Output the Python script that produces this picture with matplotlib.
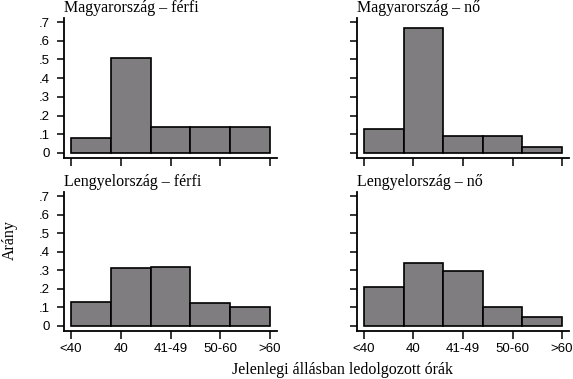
import matplotlib.pyplot as plt

categories = ['<40', '40', '41-49', '50-60', '>60']
titles = ['Magyarország – férfi', 'Magyarország – nő',
          'Lengyelország – férfi', 'Lengyelország – nő']
hu_male = [0.08, 0.51, 0.14, 0.14, 0.14]
hu_female = [0.13, 0.67, 0.09, 0.09, 0.03]
pl_male = [0.13, 0.31, 0.32, 0.125, 0.10]
pl_female = [0.21, 0.34, 0.295, 0.10, 0.05]
yticks = [0, .1, .2, .3, .4, .5, .6, .7]
ytick_labels = ['0', '.1', '.2', '.3', '.4', '.5', '.6', '.7']

W, H = 573, 379
fig = plt.figure(figsize=(W / 100, H / 100), dpi=100)
fig.patch.set_facecolor('white')

serif = 'Liberation Serif'
sans = 'Liberation Sans'
bar_color = '#807d80'

# panel boxes in pixels: (left spine x, right end x, top y, x axis y)
boxes = [(64, 277, 18, 158), (357, 569, 18, 158),
         (64, 277, 192, 331), (357, 569, 192, 331)]
data = [hu_male, hu_female, pl_male, pl_female]

for i, (vals, (x0, x1, y0, y1)) in enumerate(zip(data, boxes)):
    ax = fig.add_axes([x0 / W, 1 - y1 / H, (x1 - x0) / W, (y1 - y0) / H])
    ax.bar(range(5), vals, width=1.0, align='edge', color=bar_color,
           edgecolor='black', linewidth=1.2)
    ax.set_xlim(-0.176, 5.176)
    ax.set_ylim(-0.027, 0.722)
    for s in ['top', 'right']:
        ax.spines[s].set_visible(False)
    for s in ['left', 'bottom']:
        ax.spines[s].set_linewidth(1.3)
    ax.set_yticks(yticks)
    ax.set_xticks([0, 1.25, 2.5, 3.75, 5])
    ax.tick_params(axis='y', direction='out', length=5, width=1.1, pad=5)
    ax.tick_params(axis='x', direction='out', length=6, width=1.1, pad=3)
    if i % 2 == 0:
        ax.set_yticklabels(ytick_labels, fontsize=9.5, family=sans)
    else:
        ax.set_yticklabels([])
    if i >= 2:
        ax.set_xticklabels(categories, fontsize=9.5, family=sans)
    else:
        ax.set_xticklabels([])
    fig.text(x0 / W, 1 - (y0 - 10) / H, titles[i], fontsize=11.5,
             family=serif, ha='left', va='center')

fig.text(10 / W, 1 - 240 / H, 'Arány', rotation=90, fontsize=11.5,
         family=serif, ha='center', va='center')
fig.text(342 / W, 1 - 370 / H, 'Jelenlegi állásban ledolgozott órák',
         fontsize=11.5, family=serif, ha='center', va='center')

fig.savefig('out.png', dpi=100)
